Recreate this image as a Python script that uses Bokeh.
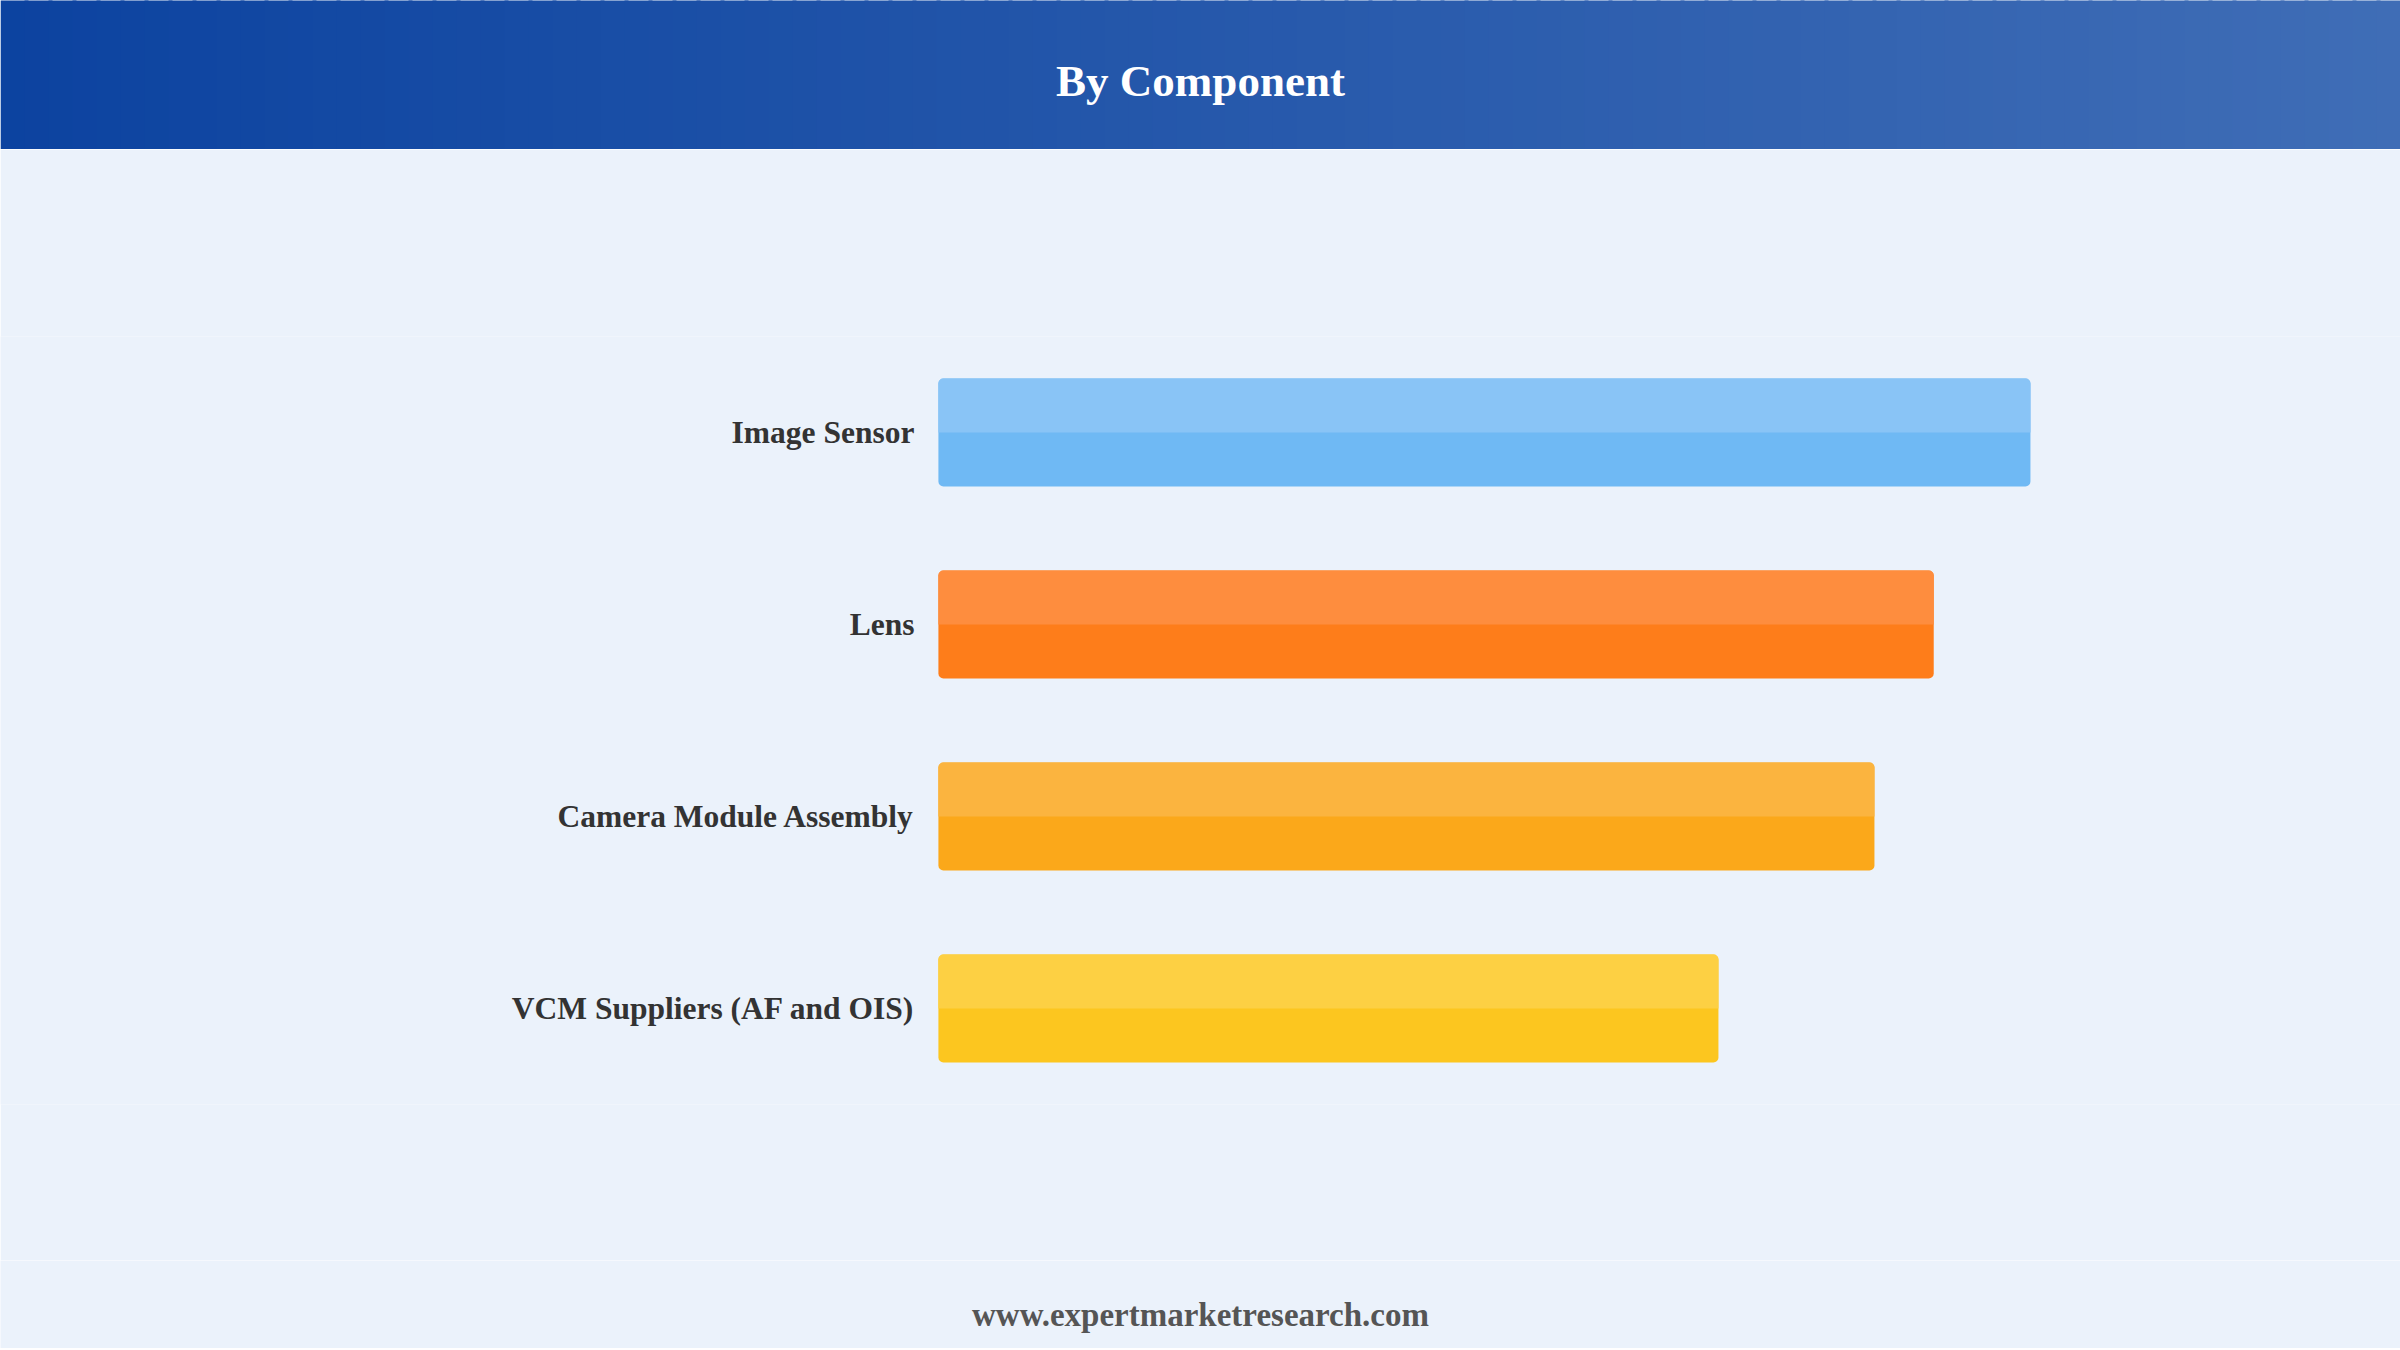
import numpy as np
from bokeh.plotting import figure
from bokeh.models import Range1d, FactorRange, ColumnDataSource
from bokeh.layouts import column
from bokeh.transform import dodge
from bokeh.core.properties import value
from bokeh.embed import file_html
from bokeh.resources import INLINE

# ---- data ----
title_text = "By Component"
footer_text = "www.expertmarketresearch.com"
categories = ["Image Sensor", "Lens", "Camera Module Assembly", "VCM Suppliers (AF and OIS)"]
values = [35.0, 31.9, 30.0, 25.0]
colors_dark = ["#6FB9F4", "#FE7D1A", "#FBA81A", "#FCC61F"]
colors_light = ["#89C4F6", "#FE8D3E", "#FBB43F", "#FDD043"]

BG = "#EBF2FB"
FONT = "Liberation Serif"
W = 2400


def bare(fig):
    fig.axis.visible = False
    fig.grid.visible = False
    fig.outline_line_color = None
    fig.background_fill_color = BG
    fig.border_fill_color = BG


# ---- header with gradient ----
HH = 149
header = figure(width=W, height=HH, x_range=Range1d(0, W), y_range=Range1d(0, HH),
                output_backend="svg", toolbar_location=None, min_border=0)
bare(header)
n = 100
c0 = np.array([12, 67, 160])
c1 = np.array([63, 109, 182])
t = np.linspace(0, 1, n)
cols = ["#%02x%02x%02x" % tuple(np.round(c0 + (c1 - c0) * ti).astype(int)) for ti in t]
edges = np.linspace(0, W, n + 1)
header.quad(left=edges[:-1], right=edges[1:] + 4, bottom=-2, top=HH + 2,
            fill_color=cols, line_color=None)
header.text(x=[W / 2], y=[69], text=[title_text], text_font=value(FONT),
            text_font_style="bold", text_font_size="45px", text_color="white",
            text_align="center", text_baseline="alphabetic")

# ---- main chart ----
MH = 1111
x0 = 30.06
x1 = 46.86
src = ColumnDataSource(dict(cat=categories, val=values, dark=colors_dark, light=colors_light))
p = figure(width=W, height=MH, y_range=FactorRange(factors=categories[::-1], range_padding=0),
           x_range=Range1d(-x0, x1), output_backend="svg", toolbar_location=None,
           min_border_left=0, min_border_right=0, min_border_top=187, min_border_bottom=156)
bare(p)

bar_h = 0.5625
p.hbar(y="cat", left=0, right="val", height=bar_h, source=src,
       fill_color="dark", line_color=None, border_radius=5)
p.hbar(y=dodge("cat", bar_h / 4, range=p.y_range), left=0, right="val", height=bar_h / 2,
       source=src, fill_color="light", line_color=None, border_radius=(5, 5, 0, 0))
p.text(x=0, y="cat", text="cat", source=src, x_offset=-24, text_align="right",
       text_baseline="middle", text_font=value(FONT), text_font_style="bold",
       text_font_size="31.5px", text_color="#333333")

# ---- footer ----
FH = 88
footer = figure(width=W, height=FH, x_range=Range1d(0, W), y_range=Range1d(0, FH),
                output_backend="svg", toolbar_location=None, min_border=0)
bare(footer)
footer.text(x=[W / 2], y=[34], text=[footer_text], text_font=value(FONT),
            text_font_style="bold", text_font_size="33px", text_color="#555555",
            text_align="center", text_baseline="alphabetic")

layout = column(header, p, footer, spacing=0)
open("out.html", "w").write(file_html(layout, INLINE))
